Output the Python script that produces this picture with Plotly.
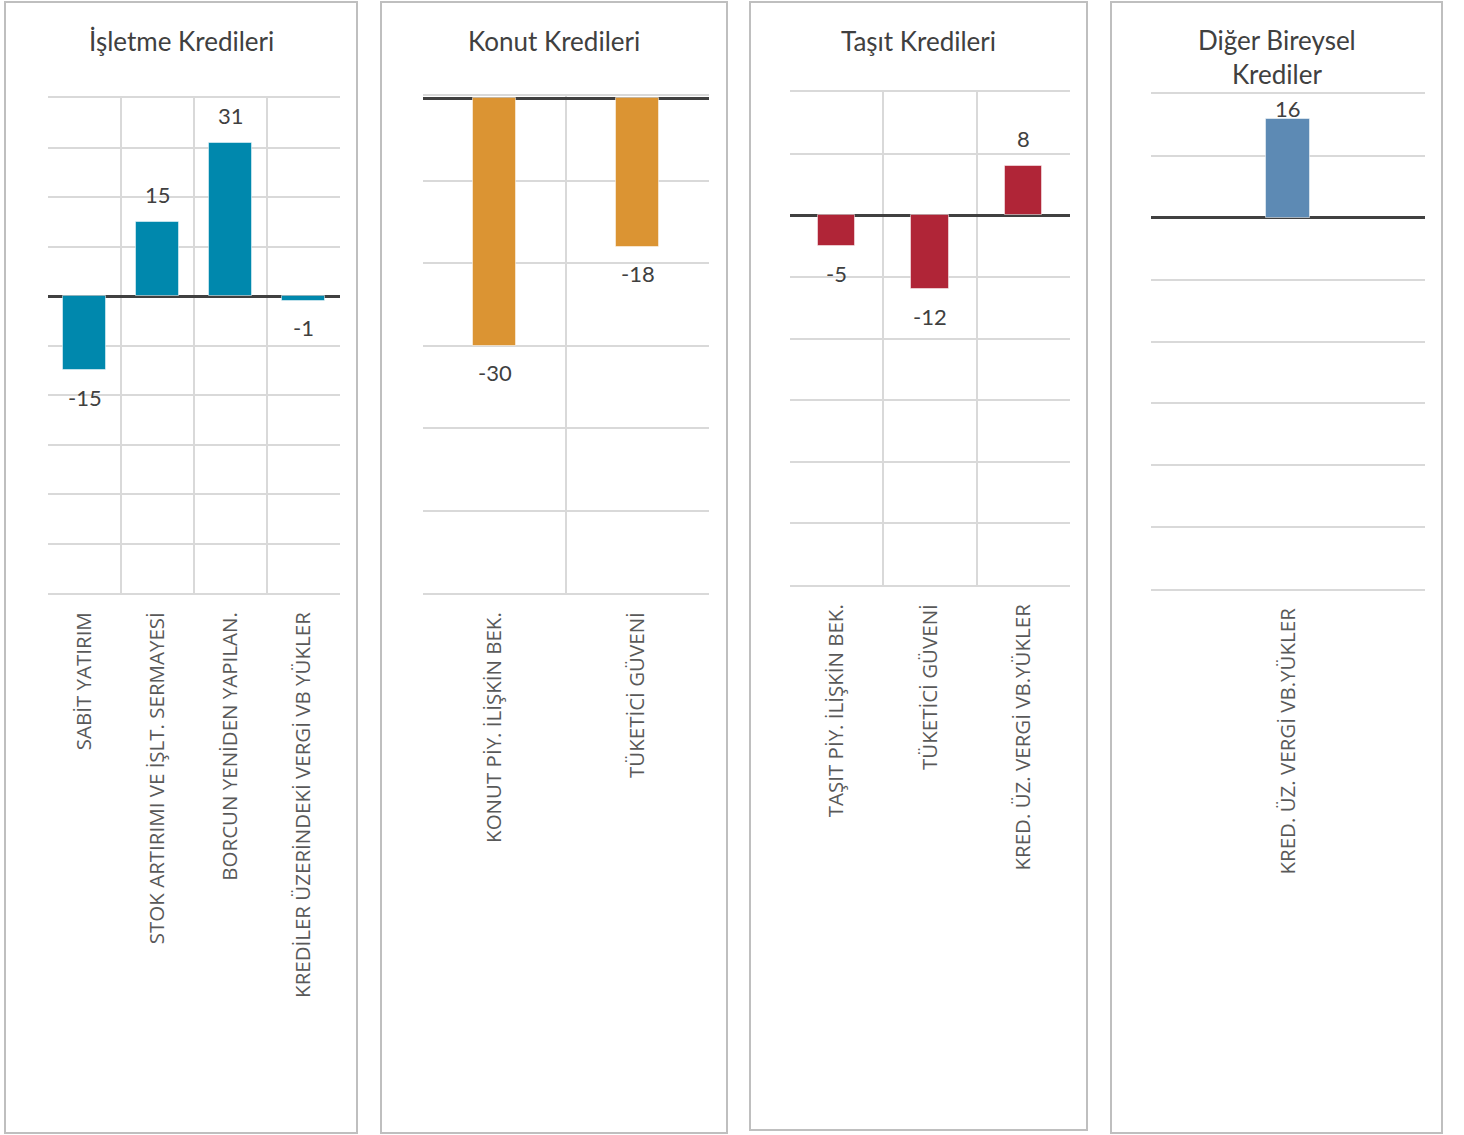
import plotly.graph_objects as go

W, H = 1464, 1135

# --- data ---
isletme_cats = ["SABİT YATIRIM", "STOK ARTIRIMI VE İŞLT. SERMAYESİ",
                "BORCUN YENİDEN YAPILAN.", "KREDİLER ÜZERİNDEKİ VERGİ VB YÜKLER"]
isletme_vals = [-15, 15, 31, -1]

konut_cats = ["KONUT PİY. İLİŞKİN BEK.", "TÜKETİCİ GÜVENİ"]
konut_vals = [-30, -18]

tasit_cats = ["TAŞIT PİY. İLİŞKİN BEK.", "TÜKETİCİ GÜVENİ", "KRED. ÜZ. VERGİ VB.YÜKLER"]
tasit_vals = [-5, -12, 8]

diger_cats = ["KRED. ÜZ. VERGİ VB.YÜKLER"]
diger_vals = [16]

titles = ["İşletme Kredileri", "Konut Kredileri", "Taşıt Kredileri", "Diğer Bireysel<br>Krediler"]
colors = ["#0088AD", "#DB9433", "#B02537", "#5D8AB4"]
yranges = [[-60, 40], [-60, 0.25], [-60, 20], [-60, 20]]

# layout in pixels: outer box, plot area, bar width, title centre y
panels = [
    dict(cats=isletme_cats, vals=isletme_vals, box=(5, 357, 2, 1133), plot=(48, 340, 98, 593), bw=0.59, ty=41),
    dict(cats=konut_cats, vals=konut_vals, box=(381, 727, 2, 1133), plot=(423, 709, 96, 593), bw=0.30, ty=41),
    dict(cats=tasit_cats, vals=tasit_vals, box=(750, 1087, 2, 1130), plot=(790, 1070, 92, 585), bw=0.40, ty=41),
    dict(cats=diger_cats, vals=diger_vals, box=(1111, 1442, 2, 1133), plot=(1151, 1425, 94, 589), bw=0.16, ty=57),
]


def px(x):
    return x / W


def py(y):
    return 1 - y / H


fig = go.Figure()
shapes, annotations = [], []
GRID = "#D9D9D9"
TXT = "#404040"

for i, p in enumerate(panels):
    n = "" if i == 0 else str(i + 1)
    xa, ya = "x" + n, "y" + n
    fig.add_trace(go.Bar(
        x=p["cats"], y=p["vals"], xaxis=xa, yaxis=ya,
        width=p["bw"], marker_color=colors[i],
        marker_line=dict(color="rgba(255,255,255,0.5)", width=1),
        showlegend=False, hoverinfo="x+y",
    ))
    x0, x1, y0, y1 = p["plot"]
    fig.update_layout(**{
        "xaxis" + n: dict(
            domain=[px(x0), px(x1)], anchor=ya, type="category",
            tickson="boundaries", showgrid=True, gridcolor=GRID, gridwidth=2,
            showline=True, linecolor=GRID, linewidth=2, mirror=True,
            ticks="", tickangle=-90, ticklabelstandoff=9,
            tickfont=dict(family="Open Sans", size=20.5, color="#595959"),
            fixedrange=True,
        ),
        "yaxis" + n: dict(
            domain=[py(y1), py(y0)], anchor=xa, range=yranges[i], dtick=10,
            showgrid=True, gridcolor=GRID, gridwidth=2,
            zeroline=True, zerolinecolor=TXT, zerolinewidth=3,
            showticklabels=False, ticks="", showline=False, fixedrange=True,
        ),
    })

    # panel frame
    bx0, bx1, by0, by1 = p["box"]
    shapes.append(dict(type="rect", xref="paper", yref="paper",
                       x0=px(bx0), x1=px(bx1), y0=py(by1), y1=py(by0),
                       line=dict(color="#BFBFBF", width=2), layer="below"))
    # title
    annotations.append(dict(xref="paper", yref="paper", x=px((bx0 + bx1) / 2), y=py(p["ty"]),
                            text=titles[i], showarrow=False, xanchor="center", yanchor="middle",
                            font=dict(family="Lato", size=26, color=TXT)))
    # data labels, kept inside the plot area like Excel does
    ppu = (y1 - y0) / (yranges[i][1] - yranges[i][0])
    for c, v in zip(p["cats"], p["vals"]):
        if v >= 0:
            off = min(27, (yranges[i][1] - v) * ppu - 14)
        else:
            off = -min(27, (v - yranges[i][0]) * ppu - 14)
        annotations.append(dict(x=c, y=v, xref=xa, yref=ya, text=str(v), showarrow=False,
                                yshift=off, font=dict(family="Lato", size=22, color=TXT)))

fig.update_layout(
    width=W, height=H,
    margin=dict(l=0, r=0, t=0, b=0),
    paper_bgcolor="white", plot_bgcolor="white",
    shapes=shapes, annotations=annotations,
    bargap=0,
)

# drop the browser's default 8px body margin so pixels line up with the page
fig.write_html("out.html", config={"displayModeBar": False},
               post_script="document.body.style.margin='0';")
